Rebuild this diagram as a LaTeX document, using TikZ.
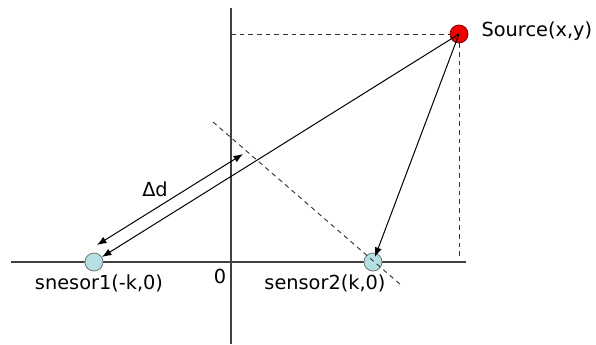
\documentclass[tikz,border=0pt]{standalone}
\usepackage{fontspec}
\setmainfont{DejaVu Sans}
\usetikzlibrary{positioning,arrows.meta}
\definecolor{sensorfill}{RGB}{180,224,228}
\definecolor{srcred}{RGB}{240,0,0}

\begin{document}
\begin{tikzpicture}[
  x=0.75pt, y=-0.75pt,
  font=\fontsize{14.5}{17}\selectfont,
  axis/.style    = {line width=0.9pt, draw=black!75},
  guide/.style   = {dash pattern=on 3.5pt off 3pt, line width=0.7pt, draw=black!80},
  ray/.style     = {-{Latex[length=2.5mm,width=1.9mm]}, line width=0.75pt},
  sensor/.style  = {circle, draw=black!55, fill=sensorfill, minimum size=13.5pt,
                    inner sep=0pt, line width=0.6pt},
  srcdot/.style  = {sensor, fill=srcred, draw=red!50!black},
  lbl/.style     = {inner sep=1pt},
]
\useasboundingbox (0,0) rectangle (596,344);

% ---------------- axes --------------------------------------------------
\coordinate (xl) at (11,262);
\coordinate (xr) at (466,262);
\coordinate (yt) at (231,8);
\coordinate (yb) at (231,344);
\draw[axis] (xl) -- (xr);
\draw[axis] (yt) -- (yb);

% ---------------- source and sensors ------------------------------------
\node[srcdot] (src) at (459,34) {};
\node[sensor] (s1)  at (94,262) {};
\node[sensor] (s2)  at (373,262) {};

\node[lbl, anchor=west] (srclbl) at (480,31) {Source(x,y)};
\node[lbl] (s1lbl) at (99,283)  {snesor1(-k,0)};
\node[lbl] (s2lbl) at (325,283) {sensor2(k,0)};
\node[lbl] (orig)  at (220,276) {0};

% ---------------- projections of the source ----------------------------
\draw[guide] (yt |- src) -- (src.west);
\draw[guide, shorten >=3pt] (src.south) -- (src.south |- xr);

% ---------------- rays ---------------------------------------------------
\draw[ray] (src.center) -- (s1);
\draw[ray, shorten >=-3pt] (src.center) -- (s2);

% equal-distance front through sensor2
\coordinate (wa) at (213,122);
\coordinate (wb) at (401,285);
\draw[guide] (wa) -- (wb);

% path difference
\coordinate (da) at (97,245);
\coordinate (db) at (243,154);
\draw[ray, {Latex[length=2.5mm,width=1.9mm]}-{Latex[length=2.5mm,width=1.9mm]}] (da) -- (db);
\node[lbl] (dlbl) at (155,189) {Δd};

\end{tikzpicture}
\end{document}
